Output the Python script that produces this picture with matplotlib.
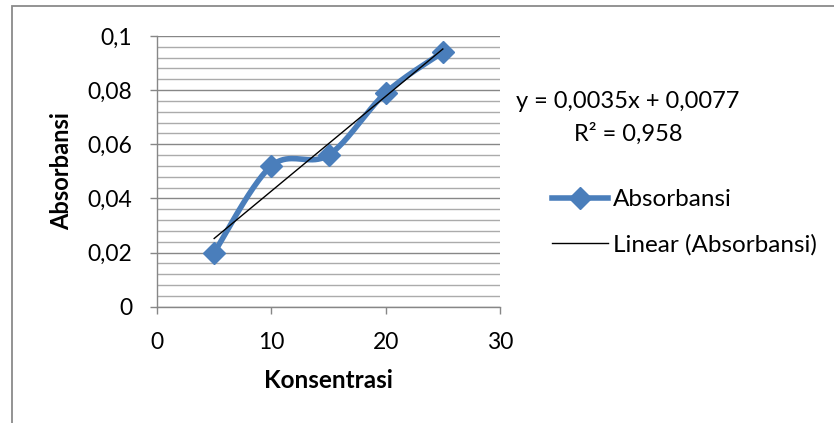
import numpy as np
import matplotlib.pyplot as plt
from matplotlib.patches import Rectangle
from matplotlib.ticker import FuncFormatter, MultipleLocator

# absorbance calibration data
konsentrasi = [5, 10, 15, 20, 25]
absorbansi = [0.020, 0.052, 0.056, 0.079, 0.094]

x_ticks = [0, 10, 20, 30]
y_ticks = [0, 0.02, 0.04, 0.06, 0.08, 0.1]

BLUE = '#4A7EBB'
GRID_MAJOR = '#878787'
GRID_MINOR = '#ababab'

plt.rcParams['font.family'] = ['Lato', 'DejaVu Sans']


def smooth(xs, ys, n=40):
    # catmull-rom style bezier, like a spreadsheet "smoothed line"
    px = np.array(xs, float)
    py = np.array(ys, float)
    px_e = np.concatenate([[px[0]], px, [px[-1]]])
    py_e = np.concatenate([[py[0]], py, [py[-1]]])
    out_x, out_y = [], []
    t = np.linspace(0, 1, n)
    for i in range(len(px) - 1):
        p0 = np.array([px_e[i + 1], py_e[i + 1]])
        p3 = np.array([px_e[i + 2], py_e[i + 2]])
        p1 = p0 + (np.array([px_e[i + 2], py_e[i + 2]]) - np.array([px_e[i], py_e[i]])) / 6
        p2 = p3 - (np.array([px_e[i + 3], py_e[i + 3]]) - np.array([px_e[i + 1], py_e[i + 1]])) / 6
        pts = ((1 - t) ** 3)[:, None] * p0 + (3 * (1 - t) ** 2 * t)[:, None] * p1 \
            + (3 * (1 - t) * t ** 2)[:, None] * p2 + (t ** 3)[:, None] * p3
        out_x.extend(pts[:, 0])
        out_y.extend(pts[:, 1])
    return out_x, out_y


def koma(v, pos=None):
    return ('%g' % round(v, 4)).replace('.', ',')


fig = plt.figure(figsize=(8.34, 4.23), dpi=100)
ax = fig.add_axes([157 / 834, (423 - 306.7) / 423, (500 - 157) / 834, (306.7 - 36) / 423])

# outer chart frame
fig.patches.append(Rectangle((12 / 834, -0.1), 1.2, (423 - 6) / 423 + 0.1,
                             transform=fig.transFigure, fill=False,
                             edgecolor='#8a8a8a', linewidth=1.3))

ax.set_xlim(0, 30)
ax.set_ylim(0, 0.1)
ax.set_xticks(x_ticks)
ax.set_yticks(y_ticks)
ax.yaxis.set_minor_locator(MultipleLocator(0.004))
ax.yaxis.set_major_formatter(FuncFormatter(koma))

ax.grid(axis='y', which='major', color=GRID_MAJOR, linewidth=1.0)
ax.grid(axis='y', which='minor', color=GRID_MINOR, linewidth=1.0)
ax.set_axisbelow(True)

for s in ['top', 'right']:
    ax.spines[s].set_visible(False)
for s in ['left', 'bottom']:
    ax.spines[s].set_color(GRID_MAJOR)
    ax.spines[s].set_linewidth(1.0)

ax.tick_params(axis='both', which='major', length=5, width=1.0, color=GRID_MAJOR,
               labelsize=16.5, labelcolor='black')
ax.tick_params(axis='y', pad=13)
ax.tick_params(axis='x', pad=13)
ax.tick_params(axis='y', which='minor', length=0)

sx, sy = smooth(konsentrasi, absorbansi)
ax.plot(sx, sy, color=BLUE, linewidth=4.0, solid_capstyle='round', zorder=3)
ax.plot(konsentrasi, absorbansi, linestyle='none', marker='D', markersize=11,
        color=BLUE, zorder=4)

# linear trendline
slope, intercept = np.polyfit(konsentrasi, absorbansi, 1)
pred = slope * np.array(konsentrasi) + intercept
mean_y = np.mean(absorbansi)
r2 = 1 - np.sum((np.array(absorbansi) - pred) ** 2) / np.sum((np.array(absorbansi) - mean_y) ** 2)
tx = np.array([konsentrasi[0], konsentrasi[-1]])
ax.plot(tx, slope * tx + intercept, color='black', linewidth=1.0, zorder=5)

ax.set_xlabel('Konsentrasi', fontsize=17.5, fontweight='bold', labelpad=12)
ax.set_ylabel('Absorbansi', fontsize=17, fontweight='bold', labelpad=10)

eq = 'y = %sx + %s' % (('%.4f' % slope).replace('.', ','), ('%.4f' % intercept).replace('.', ','))
fig.text(628 / 834, 1 - 101 / 423, eq, ha='center', va='center', fontsize=17)
fig.text(628 / 834, 1 - 134 / 423, 'R² = %s' % ('%.3f' % r2).replace('.', ','),
         ha='center', va='center', fontsize=17)

# legend
h1, = ax.plot([], [], color=BLUE, linewidth=4.0, marker='D', markersize=11)
h2, = ax.plot([], [], color='black', linewidth=1.0)
fig.legend([h1, h2], ['Absorbansi', 'Linear (Absorbansi)'],
           loc='upper left', bbox_to_anchor=(552 / 834, 1 - 189 / 423),
           frameon=False, fontsize=17.5, handlelength=2.3, handletextpad=0.2,
           labelspacing=0.97, borderaxespad=0, borderpad=0)

fig.savefig('out.png', dpi=100)
